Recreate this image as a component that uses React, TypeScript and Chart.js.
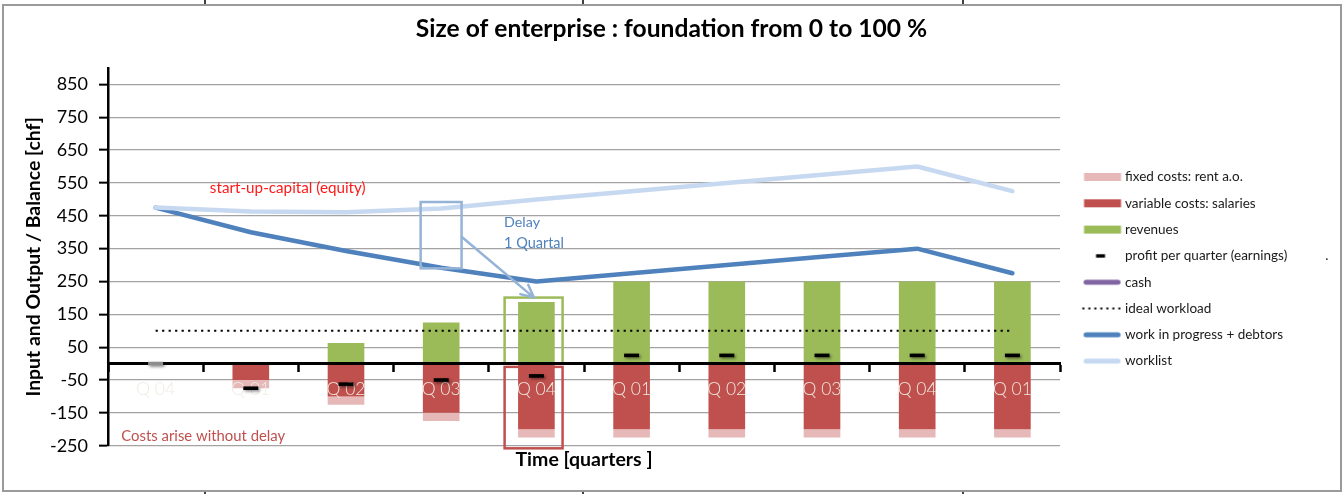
import React, { useEffect, useRef } from 'react';
import { Chart, registerables } from 'chart.js';

Chart.register(...registerables);

// ---------------- data ----------------
const categories = ['Q 04', 'Q 01', 'Q 02', 'Q 03', 'Q 04', 'Q 01', 'Q 02', 'Q 03', 'Q 04', 'Q 01'];
const fixedCosts = [0, -25, -25, -25, -25, -25, -25, -25, -25, -25];
const variableCosts = [0, -50, -100, -150, -200, -200, -200, -200, -200, -200];
const revenues = [0, 0, 62.5, 125, 187.5, 250, 250, 250, 250, 250];
const profitPerQuarter = [0, -75, -62.5, -50, -37.5, 25, 25, 25, 25, 25];
const cash: (number | null)[] = [null, null, null, null, null, null, null, null, null, null];
const idealWorkload = [100, 100, 100, 100, 100, 100, 100, 100, 100, 100];
const workInProgress = [475, 400, 343, 292, 250, 275, 300, 325, 350, 275];
const worklist = [475, 463, 461, 472, 500, 525, 550, 575, 600, 525];
const yTickValues = [-250, -150, -50, 50, 150, 250, 350, 450, 550, 650, 750, 850];
const yMin = -250;
const yMax = 900;

const legendLabels = {
  fixed: 'fixed costs: rent a.o.',
  variable: 'variable costs: salaries',
  revenues: 'revenues',
  profit: 'profit per quarter (earnings)           .         ',
  cash: 'cash',
  ideal: 'ideal workload',
  wip: 'work in progress + debtors',
  worklist: 'worklist',
};

// annotations (in category-index / value units)
const annotationTexts = [
  { text: 'start-up-capital (equity)', x: 0.57, y: 534, width: 156, color: '#FF1A1A' },
  { text: 'Delay', x: 3.66, y: 429, width: 36, color: '#4F81BD' },
  { text: '1 Quartal', x: 3.66, y: 367, width: 60, color: '#4F81BD' },
  { text: 'Costs arise without delay', x: -0.36, y: -220, width: 164, color: '#C0504D' },
];
const annotationBoxes = [
  { x0: 2.784, x1: 3.214, y0: 290, y1: 492, color: '#95B3D7' },
  { x0: 3.666, x1: 4.275, y0: 0, y1: 201, color: '#9BBB59' },
  { x0: 3.666, x1: 4.275, y0: -258, y1: -10, color: '#C0504D' },
];
const annotationArrow = { x0: 3.214, y0: 386, x1: 3.974, y1: 201, color: '#95B3D7' };
const sheetMarksX = [205, 583, 963];

const FONT = 'Lato, "Open Sans", sans-serif';

// ---------------- legend symbols ----------------
function makeSymbol(kind: string, color: string): HTMLCanvasElement {
  const c = document.createElement('canvas');
  c.width = 60;
  c.height = 14;
  const g = c.getContext('2d')!;
  const cy = 7;
  if (kind === 'box') {
    g.fillStyle = color;
    g.fillRect(18.5, cy - 4, 37, 8);
  } else if (kind === 'dash') {
    g.fillStyle = color;
    g.fillRect(30.5, cy - 1.7, 9, 3.4);
  } else if (kind === 'line') {
    g.strokeStyle = color;
    g.lineWidth = 5;
    g.lineCap = 'round';
    g.beginPath();
    g.moveTo(20.5, cy);
    g.lineTo(52.5, cy);
    g.stroke();
  } else if (kind === 'dots') {
    g.fillStyle = color;
    for (let i = 0; i < 7; i++) g.fillRect(16.8 + i * 6, cy - 1, 2, 2);
  }
  return c;
}

const PROFIT_INDEX = 4;

const framePlugin = {
  id: 'frame',
  beforeDraw(chart: any) {
    const { ctx, width, height } = chart;
    ctx.save();
    ctx.fillStyle = '#ffffff';
    ctx.fillRect(0, 0, width, height);
    ctx.strokeStyle = '#9a9a9a';
    ctx.lineWidth = 2;
    ctx.strokeRect(3, 5, 1338, 486);
    ctx.strokeStyle = '#000000';
    ctx.lineWidth = 1.5;
    ctx.beginPath();
    for (const mx of sheetMarksX) {
      ctx.moveTo(mx, 0);
      ctx.lineTo(mx, 4);
      ctx.moveTo(mx, 492);
      ctx.lineTo(mx, height);
    }
    ctx.stroke();
    ctx.restore();
  },
};

const annotationPlugin = {
  id: 'annotations',
  afterDatasetsDraw(chart: any) {
    const { ctx } = chart;
    const xs = chart.scales.x;
    const ys = chart.scales.y;
    ctx.save();
    ctx.lineWidth = 2.5;
    for (const b of annotationBoxes) {
      const l = xs.getPixelForValue(b.x0);
      const r = xs.getPixelForValue(b.x1);
      const t = ys.getPixelForValue(b.y1);
      const btm = ys.getPixelForValue(b.y0);
      ctx.strokeStyle = b.color;
      ctx.strokeRect(l, t, r - l, btm - t);
    }
    // arrow
    const a = annotationArrow;
    const ax0 = xs.getPixelForValue(a.x0);
    const ay0 = ys.getPixelForValue(a.y0);
    const ax1 = xs.getPixelForValue(a.x1);
    const ay1 = ys.getPixelForValue(a.y1);
    ctx.strokeStyle = a.color;
    ctx.lineCap = 'round';
    ctx.beginPath();
    ctx.moveTo(ax0, ay0);
    ctx.lineTo(ax1, ay1);
    const ang = Math.atan2(ay1 - ay0, ax1 - ax0);
    const hl = 14;
    for (const s of [-0.45, 0.45]) {
      ctx.moveTo(ax1, ay1);
      ctx.lineTo(ax1 - hl * Math.cos(ang + s), ay1 - hl * Math.sin(ang + s));
    }
    ctx.stroke();
    // texts
    ctx.textAlign = 'left';
    ctx.textBaseline = 'middle';
    for (const t of annotationTexts) {
      ctx.font = `12px ${FONT}`;
      const w = ctx.measureText(t.text).width;
      const size = (12 * t.width) / w;
      ctx.font = `${size}px ${FONT}`;
      ctx.fillStyle = t.color;
      ctx.fillText(t.text, xs.getPixelForValue(t.x), ys.getPixelForValue(t.y));
    }
    ctx.restore();
  },
};

const profitOnTopPlugin = {
  id: 'profitOnTop',
  beforeDatasetDraw(_chart: any, args: any) {
    if (args.index === PROFIT_INDEX) return false;
    return true;
  },
  afterDraw(chart: any) {
    const meta = chart.getDatasetMeta(PROFIT_INDEX);
    const ctx = chart.ctx;
    ctx.save();
    ctx.shadowColor = 'rgba(0,0,0,0.45)';
    ctx.shadowBlur = 3;
    ctx.shadowOffsetX = 1.5;
    ctx.shadowOffsetY = 1.5;
    meta.controller.draw();
    ctx.restore();
  },
};

export default function App() {
  const ref = useRef<HTMLCanvasElement>(null);

  useEffect(() => {
    const canvas = ref.current;
    if (!canvas) return;

    const symbols: HTMLCanvasElement[] = [
      makeSymbol('line', '#C6D9F1'), // 0 worklist
      makeSymbol('line', '#4F81BD'), // 1 wip
      makeSymbol('dots', '#000000'), // 2 ideal
      makeSymbol('line', '#8064A2'), // 3 cash
      makeSymbol('dash', '#000000'), // 4 profit
      makeSymbol('box', '#C0504D'), // 5 variable
      makeSymbol('box', '#E6B9B8'), // 6 fixed
      makeSymbol('box', '#9BBB59'), // 7 revenues
    ];
    const legendRank = [7, 6, 5, 4, 3, 1, 0, 2];

    const chart = new Chart(canvas, {
      type: 'bar',
      data: {
        labels: categories,
        datasets: [
          {
            type: 'line',
            label: legendLabels.worklist,
            data: worklist,
            borderColor: '#C6D9F1',
            backgroundColor: '#C6D9F1',
            borderWidth: 4.5,
            borderCapStyle: 'round',
            borderJoinStyle: 'round',
            pointRadius: 0,
            tension: 0,
            stack: 's_worklist',
            xAxisID: 'x',
            yAxisID: 'y',
          },
          {
            type: 'line',
            label: legendLabels.wip,
            data: workInProgress,
            borderColor: '#4F81BD',
            backgroundColor: '#4F81BD',
            borderWidth: 4.5,
            borderCapStyle: 'round',
            borderJoinStyle: 'round',
            pointRadius: 0,
            tension: 0,
            stack: 's_wip',
            xAxisID: 'x',
            yAxisID: 'y',
          },
          {
            type: 'line',
            label: legendLabels.ideal,
            data: idealWorkload,
            borderColor: '#000000',
            backgroundColor: '#000000',
            borderWidth: 2.2,
            borderDash: [2.2, 4.3],
            pointRadius: 0,
            stack: 's_ideal',
            xAxisID: 'x',
            yAxisID: 'y',
          },
          {
            type: 'line',
            label: legendLabels.cash,
            data: cash,
            borderColor: '#8064A2',
            backgroundColor: '#8064A2',
            borderWidth: 4.5,
            pointRadius: 0,
            stack: 's_cash',
            xAxisID: 'x',
            yAxisID: 'y',
          },
          {
            type: 'line',
            label: legendLabels.profit,
            data: profitPerQuarter,
            showLine: false,
            pointStyle: 'line',
            pointRadius: 7.5,
            pointBorderWidth: 3.6,
            pointBorderColor: profitPerQuarter.map((_, i) => (i === 0 ? '#8c8c8c' : '#000000')),
            pointBackgroundColor: '#000000',
            stack: 's_profit',
            xAxisID: 'x',
            yAxisID: 'y',
          },
          {
            label: legendLabels.variable,
            data: variableCosts,
            backgroundColor: '#C0504D',
            borderWidth: 0,
            stack: 'bars',
            categoryPercentage: 1,
            barPercentage: 0.385,
            xAxisID: 'x',
            yAxisID: 'y',
          },
          {
            label: legendLabels.fixed,
            data: fixedCosts,
            backgroundColor: '#E6B9B8',
            borderWidth: 0,
            stack: 'bars',
            categoryPercentage: 1,
            barPercentage: 0.385,
            xAxisID: 'x',
            yAxisID: 'y',
          },
          {
            label: legendLabels.revenues,
            data: revenues,
            backgroundColor: '#9BBB59',
            borderWidth: 0,
            stack: 'bars',
            categoryPercentage: 1,
            barPercentage: 0.385,
            xAxisID: 'x',
            yAxisID: 'y',
          },
        ] as any,
      },
      options: {
        responsive: false,
        animation: false,
        devicePixelRatio: 1,
        events: [],
        layout: { padding: { left: 0, right: 0, top: 0, bottom: 20 } },
        scales: {
          x: {
            type: 'category',
            position: { y: 0 } as any,
            stacked: true,
            offset: true,
            grid: {
              display: true,
              drawOnChartArea: false,
              drawTicks: true,
              tickLength: 7,
              tickWidth: 2.5,
              tickColor: '#000000',
              offset: true,
            },
            border: { display: true, color: '#000000', width: 3, z: 1 } as any,
            ticks: {
              z: 1,
              color: '#EEECE1',
              autoSkip: false,
              maxRotation: 0,
              padding: 8.5,
              font: { family: FONT, size: 17.5, weight: '300' as any },
            },
          },
          x2: {
            type: 'category',
            position: 'bottom',
            labels: categories,
            grid: { display: false, drawTicks: false },
            border: { display: false },
            ticks: { display: false },
            title: {
              display: true,
              text: 'Time [quarters ]',
              color: '#000000',
              font: { family: FONT, size: 19.5, weight: 'bold' },
              padding: { top: 2.6, bottom: 2.3 },
            },
          },
          y: {
            type: 'linear',
            position: 'left',
            stacked: true,
            min: yMin,
            max: yMax,
            afterBuildTicks: (scale: any) => {
              scale.ticks = yTickValues.map((v) => ({ value: v }));
            },
            afterFit: (scale: any) => {
              scale.width = 108;
            },
            grid: {
              color: '#A3A3A3',
              lineWidth: 1.3,
              tickLength: 9,
              tickWidth: 2,
              tickColor: '#000000',
            },
            border: { display: true, color: '#000000', width: 2.5 },
            ticks: {
              color: '#000000',
              padding: 11,
              font: { family: FONT, size: 18 },
              callback: (v: any) => String(v),
            },
            title: {
              display: true,
              text: 'Input and Output / Balance [chf]',
              color: '#000000',
              font: { family: FONT, size: 19.4, weight: 'bold' },
              padding: { top: 22.4, bottom: 0 },
            },
          },
        },
        plugins: {
          title: {
            display: true,
            text: 'Size of enterprise : foundation from 0 to 100 %',
            color: '#000000',
            font: { family: FONT, size: 24.6, weight: 'bold' },
            padding: { top: 14.2, bottom: 24.3 },
          },
          legend: {
            display: true,
            position: 'right',
            align: 'start',
            maxWidth: 283,
            title: {
              display: true,
              text: ' ',
              font: { size: 10 },
              padding: { top: 145.45, bottom: 0 },
            },
            labels: {
              usePointStyle: true,
              pointStyleWidth: 45.45,
              boxHeight: 13.5,
              padding: 12.8,
              color: '#1A1A1A',
              font: { family: FONT, size: 13.5 },
              generateLabels: (ch: any) =>
                ch.data.datasets.map((ds: any, i: number) => ({
                  text: ds.label,
                  datasetIndex: i,
                  pointStyle: symbols[i],
                  fillStyle: 'rgba(0,0,0,0)',
                  strokeStyle: 'rgba(0,0,0,0)',
                  lineWidth: 0,
                  hidden: false,
                  fontColor: '#1A1A1A',
                })),
              sort: (a: any, b: any) => legendRank[a.datasetIndex] - legendRank[b.datasetIndex],
            },
          },
          tooltip: { enabled: false },
        },
      } as any,
      plugins: [framePlugin, annotationPlugin, profitOnTopPlugin],
    });

    return () => chart.destroy();
  }, []);

  return (
    <div style={{ position: 'absolute', left: 0, top: 0, width: 1343, height: 494, background: '#ffffff' }}>
      <canvas ref={ref} width={1343} height={494} style={{ display: 'block', width: 1343, height: 494 }} />
    </div>
  );
}
